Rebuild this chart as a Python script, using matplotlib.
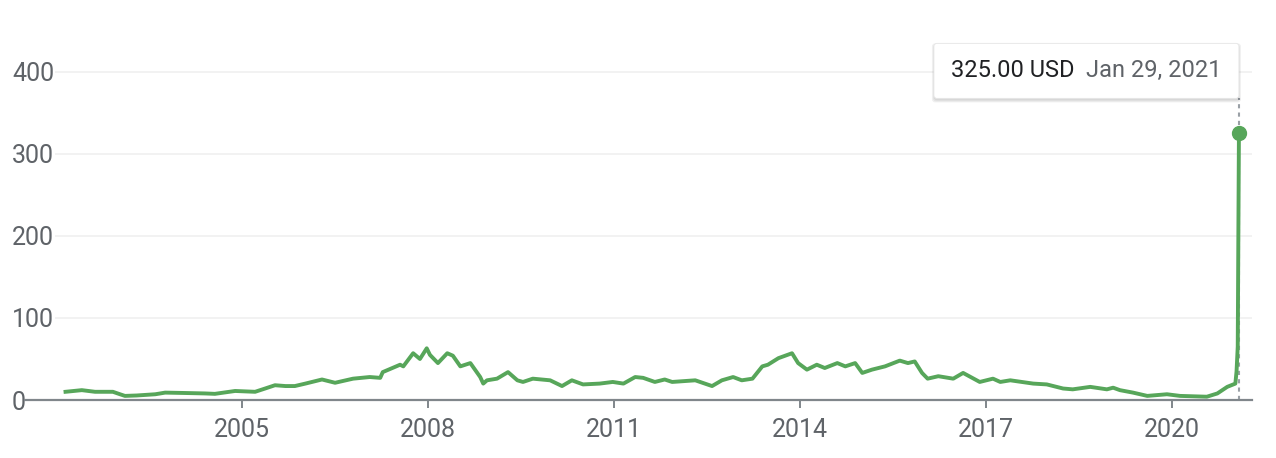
import numpy as np
import pandas as pd
import matplotlib.pyplot as plt
import matplotlib.dates as mdates
from matplotlib.patches import FancyBboxPatch

plt.rcParams['font.family'] = ['Roboto', 'DejaVu Sans']

# price readings taken off the chart (USD)
dates = ['2002-02-25', '2002-06-01', '2002-08-18', '2002-12-01', '2003-01-12', '2003-02-10',
         '2003-04-20', '2003-08-08', '2003-10-05', '2004-02-06', '2004-05-26', '2004-07-24',
         '2004-11-20', '2005-03-18', '2005-05-16', '2005-07-13', '2005-09-13', '2005-11-07',
         '2006-01-08', '2006-04-16', '2006-07-02', '2006-10-16', '2007-01-22', '2007-03-25',
         '2007-04-09', '2007-07-20', '2007-08-08', '2007-10-05', '2007-11-14', '2007-12-24',
         '2008-01-12', '2008-02-28', '2008-04-23', '2008-05-26', '2008-07-09', '2008-09-06',
         '2008-11-03', '2008-11-21', '2008-12-13', '2009-02-10', '2009-04-16', '2009-06-10',
         '2009-07-13', '2009-09-09', '2009-12-20', '2010-02-28', '2010-04-27', '2010-07-02',
         '2010-10-08', '2010-12-24', '2011-02-25', '2011-05-05', '2011-06-21', '2011-08-29',
         '2011-10-26', '2011-12-09', '2012-04-23', '2012-07-31', '2012-09-27', '2012-12-02',
         '2013-01-22', '2013-03-26', '2013-05-23', '2013-06-25', '2013-08-26', '2013-11-14',
         '2013-12-20', '2014-02-10', '2014-04-09', '2014-05-26', '2014-08-08', '2014-09-24',
         '2014-11-21', '2015-01-02', '2015-02-28', '2015-05-16', '2015-08-11', '2015-09-28',
         '2015-11-07', '2015-12-20', '2016-01-22', '2016-03-25', '2016-06-21', '2016-08-18',
         '2016-11-24', '2017-02-10', '2017-03-25', '2017-05-23', '2017-10-05', '2017-12-24',
         '2018-03-30', '2018-05-26', '2018-09-06', '2018-12-13', '2019-01-19', '2019-02-28',
         '2019-05-16', '2019-08-08', '2019-12-02', '2020-02-17', '2020-07-24', '2020-09-24',
         '2020-11-21', '2021-01-08', '2021-01-15', '2021-01-22', '2021-01-29']
prices = [10, 12, 10, 10, 7, 5,
          5.5, 7, 9, 8.5, 8, 7.5,
          11, 10, 14, 18, 17, 17,
          20, 25, 21, 26, 28, 27,
          34, 43, 41, 57, 50, 63,
          55, 45, 57, 54, 41, 45,
          28, 20, 24, 26, 34, 24,
          22, 26, 24, 17, 24, 19,
          20, 22, 20, 28, 27, 22,
          25, 22, 24, 17, 24, 28,
          24, 26, 41, 43, 51, 57,
          45, 37, 43, 39, 45, 41,
          45, 33, 37, 41, 48, 45,
          47, 33, 26, 29, 26, 33,
          22, 26, 22, 24, 20, 19,
          14, 13, 16, 13, 15, 12,
          9, 5, 7, 5, 4, 8,
          16, 20, 35, 65, 325]
years = [2005, 2008, 2011, 2014, 2017, 2020]
yticks = [0, 100, 200, 300, 400]

green = '#57a65a'
grey = '#80868b'

x = pd.to_datetime(dates)
fig = plt.figure(figsize=(12.76, 4.58), dpi=100)
ax = fig.add_axes([55 / 1276, 1 - 400 / 458, 1197 / 1276, 370 / 458])

ax.plot(x, prices, color=green, lw=2.8, solid_joinstyle='round', zorder=3)
ax.plot(x[-1], prices[-1], 'o', color=green, ms=10, zorder=4)

ax.set_ylim(0, 451)
ax.set_xlim(pd.Timestamp('2001-12-25'), pd.Timestamp('2021-04-16'))

ax.set_yticks(yticks)
ax.set_yticklabels([str(v) for v in yticks])
ax.grid(axis='y', color='#f0f0f0', lw=1.2)
ax.set_axisbelow(True)
ax.tick_params(axis='y', length=0, pad=31, labelsize=18, labelcolor='#5f6368')
for lab in ax.get_yticklabels():
    lab.set_horizontalalignment('left')

ax.set_xticks([pd.Timestamp(f'{y}-01-01') for y in years])
ax.xaxis.set_major_formatter(mdates.DateFormatter('%Y'))
ax.tick_params(axis='x', length=6, width=1.4, color=grey, pad=7, labelsize=18, labelcolor='#5f6368')

for s in ['top', 'right', 'left', 'bottom']:
    ax.spines[s].set_visible(False)
ax.plot([-30 / 1197, 1], [0, 0], transform=ax.get_yaxis_transform(), color=grey, lw=1.6,
        clip_on=False, zorder=5)

# tooltip box anchored to the last point
fig.canvas.draw()
px, py = ax.transData.transform((mdates.date2num(x[-1]), prices[-1]))
W, H = 305, 55
x0, y0 = px - W, py + 35
ytop = ax.transData.inverted().transform((px, y0))[1]
ax.plot([x[-1], x[-1]], [0, ytop], color='#9aa0a6', lw=1.5, ls=(0, (2, 2)), clip_on=False, zorder=2)
for i, a in enumerate([0.05, 0.05, 0.06]):
    sh = FancyBboxPatch((x0 - i, y0 - 2 - i), W + 2 * i, H + 2 * i, boxstyle='round,pad=0,rounding_size=3',
                        transform=None, fc='black', ec='none', alpha=a, zorder=9)
    fig.patches.append(sh)
box = FancyBboxPatch((x0, y0), W, H, boxstyle='round,pad=0,rounding_size=3', transform=None,
                     fc='white', ec='#e6e6e6', lw=0.6, zorder=10)
fig.patches.append(box)
fig.text((x0 + 17) / 1276, (y0 + H / 2) / 458, '325.00 USD', fontsize=17, color='#202124',
         va='center', ha='left', zorder=11)
fig.text((x0 + 288) / 1276, (y0 + H / 2) / 458, 'Jan 29, 2021', fontsize=17, color='#5f6368',
         va='center', ha='right', zorder=11)

fig.savefig('out.png', dpi=100)
